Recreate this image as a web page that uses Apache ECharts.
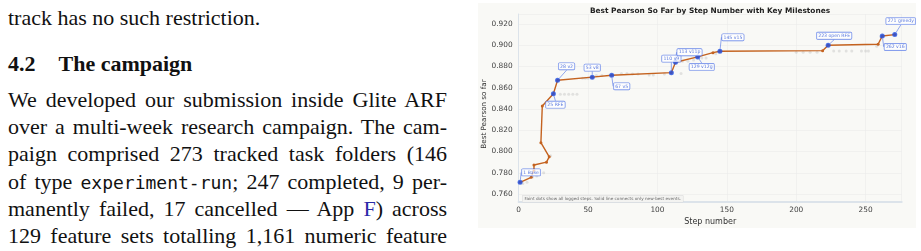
<!DOCTYPE html>
<html><head><meta charset="utf-8">
<script src="https://cdn.jsdelivr.net/npm/echarts@6/dist/echarts.min.js"></script>
<style>
html,body{margin:0;padding:0;background:#fff;width:921px;height:251px;overflow:hidden;}
.col{position:absolute;left:0;top:0;width:460px;height:251px;font-family:"Liberation Serif","Times New Roman",serif;font-size:22px;color:#111;}
.ln{position:absolute;left:8px;width:439px;line-height:22px;height:22px;white-space:normal;}
.j{text-align:justify;text-align-last:justify;}
.h{font-weight:bold;}
.tt{font-family:"DejaVu Sans Mono",monospace;font-size:18px;}
.lk{color:#2a2aa8;}
#chart{position:absolute;left:478px;top:3px;width:438px;height:225px;}
</style></head>
<body>
<div class="col">
<div class="ln" style="top:7.2px">track has no such restriction.</div>
<div class="ln h" style="top:52.5px">4.2<span style="display:inline-block;width:23px"></span>The campaign</div>
<div class="ln j" style="top:88.8px">We developed our submission inside Glite ARF</div>
<div class="ln j" style="top:116.1px">over a multi-week research campaign. The cam-</div>
<div class="ln j" style="top:143.4px">paign comprised 273 tracked task folders (146</div>
<div class="ln j" style="top:170.7px">of type <span class="tt">experiment-run</span>; 247 completed, 9 per-</div>
<div class="ln j" style="top:198px">manently failed, 17 cancelled — App <span class="lk">F</span>) across</div>
<div class="ln j" style="top:225.3px">129 feature sets totalling 1,161 numeric feature</div>
</div>
<div id="chart"></div>
<script>
// ---- data ----
const bestSteps  = [1, 9, 11, 11, 20, 22, 16, 17, 25, 28, 53, 67, 110, 113, 129, 140, 145, 219, 223, 259, 262, 271];
const bestValues = [0.771, 0.7757, 0.7825, 0.7873, 0.790, 0.795, 0.8083, 0.8428, 0.8544, 0.867, 0.870, 0.8717, 0.8742, 0.884, 0.889, 0.893, 0.8943, 0.8949, 0.900, 0.9009, 0.9087, 0.910];

const msSteps  = [1, 25, 28, 53, 67, 110, 113, 129, 145, 223, 262, 271];
const msValues = [0.771, 0.8544, 0.867, 0.870, 0.8717, 0.8742, 0.884, 0.889, 0.8943, 0.900, 0.9087, 0.910];
const msLabels = ['1 Base', '25 RFE', '28 v2', '53 v8', '67 v5', '110 v9', '113 v11p', '129 v12g', '145 v15', '223 open RFE', '262 v16', '271 greedy'];

const logSteps  = [3, 6, 10, 13, 18, 23, 30, 33, 36, 39, 42, 46, 48, 50, 56, 60, 74, 78, 82, 86, 94, 97, 105, 117, 118, 122, 126, 132, 135, 142, 200, 205, 210, 215, 227, 231, 236, 240, 247, 250, 252, 258, 261, 264];
const logValues = [0.770, 0.771, 0.776, 0.777, 0.780, 0.796, 0.854, 0.854, 0.854, 0.854, 0.854, 0.869, 0.869, 0.869, 0.8715, 0.8715, 0.8735, 0.8735, 0.873, 0.873, 0.872, 0.872, 0.873, 0.8735, 0.885, 0.885, 0.886, 0.888, 0.888, 0.892, 0.8935, 0.8935, 0.8935, 0.8935, 0.8945, 0.8945, 0.8945, 0.8945, 0.8945, 0.8945, 0.8945, 0.899, 0.908, 0.9005];

const titleText = 'Best Pearson So Far by Step Number with Key Milestones';
const xName = 'Step number';
const yName = 'Best Pearson so far';
const noteText = 'Faint dots show all logged steps. Solid line connects only new-best events.';

// ---- layout (label offsets in px) ----
const labelOffsets = [[11,-10],[2,11],[9,-14],[0,-9.5],[10,11],[0,-14],[14,-10],[4,10],[13,-14],[6,-9.5],[13,11],[6,-13.5]];

const FONT = '"DejaVu Sans", sans-serif';
const chart = echarts.init(document.getElementById('chart'), null, {renderer: 'canvas'});
chart.setOption({
  animation: false,
  backgroundColor: '#f9f9f6',
  title: {
    text: titleText, left: 232, top: 5, padding: 0, textAlign: 'center',
    textStyle: {fontFamily: FONT, fontWeight: 'bold', fontSize: 7.4, color: '#222'}
  },
  grid: {left: 40.7, right: 14.3, top: 11, bottom: 26, containLabel: false, outerBoundsMode: 'none'},
  xAxis: {
    type: 'value', min: 0, max: 276, interval: 50,
    name: xName, nameLocation: 'middle', nameGap: 16, nameMoveOverlap: false,
    nameTextStyle: {fontFamily: FONT, fontSize: 8, color: '#333'},
    axisLine: {show: true, lineStyle: {color: '#dce3ea', width: 2}},
    axisTick: {show: false},
    axisLabel: {fontFamily: FONT, fontSize: 7.4, color: '#444', margin: 5, showMaxLabel: false},
    splitLine: {show: true, lineStyle: {color: '#ebebeb', width: 0.6}}
  },
  yAxis: {
    type: 'value', min: 0.7525, max: 0.9294, splitNumber: 9,
    name: yName, nameLocation: 'middle', nameGap: 31, nameMoveOverlap: false,
    nameTextStyle: {fontFamily: FONT, fontSize: 7.2, color: '#333', padding: [0, 12, 0, 0]},
    axisLine: {show: true, lineStyle: {color: '#dce3ea', width: 1}},
    axisTick: {show: false},
    axisLabel: {fontFamily: FONT, fontSize: 7.4, color: '#444', margin: 6, showMinLabel: false, showMaxLabel: false,
      formatter: v => v.toFixed(3)},
    splitLine: {show: true, lineStyle: {color: '#ebebeb', width: 0.6}}
  },
  series: [
    {
      type: 'scatter', z: 1, silent: true,
      data: logSteps.map((s, i) => [s, logValues[i]]),
      symbolSize: 3, itemStyle: {color: 'rgba(165,165,165,0.35)'}
    },
    {
      type: 'line', z: 2,
      data: bestSteps.map((s, i) => [s, bestValues[i]]),
      lineStyle: {color: '#c4621f', width: 1.4},
      symbol: 'circle', symbolSize: 3, itemStyle: {color: '#c4621f'}
    },
    {
      type: 'scatter', z: 3,
      data: msSteps.map((s, i) => [s, msValues[i]]),
      symbolSize: 5, itemStyle: {color: '#1f4fe3'},
      label: {
        show: true, position: 'inside',
        formatter: p => msLabels[p.dataIndex],
        fontFamily: FONT, fontSize: 4.6, color: '#2d55d8',
        backgroundColor: 'rgba(255,255,255,0.9)', borderColor: '#4a6ee6', borderWidth: 0.6,
        padding: [0.8, 1.5], borderRadius: 1
      },
      labelLayout: p => ({dx: labelOffsets[p.dataIndex][0], dy: labelOffsets[p.dataIndex][1]}),
      labelLine: {show: true, lineStyle: {color: '#4a6ee6', width: 0.6}}
    }
  ],
  graphic: [{
    type: 'text', left: 44, top: 192, z: 10,
    style: {text: noteText, font: '4.2px "DejaVu Sans"', fill: '#666',
      backgroundColor: '#f3f3f1', borderColor: '#d8d8d8', borderWidth: 0.5, padding: [1.2, 2]}
  }]
});
</script>
</body></html>
